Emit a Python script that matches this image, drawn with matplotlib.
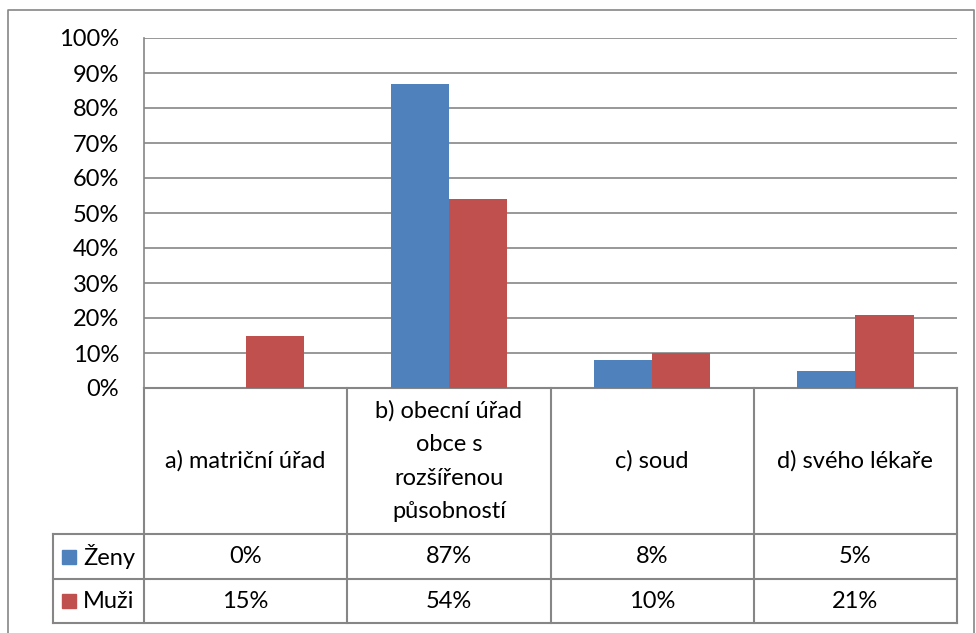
import numpy as np
import matplotlib
matplotlib.use("Agg")
import matplotlib.pyplot as plt
from matplotlib.patches import Rectangle

plt.rcParams['font.family'] = ['Lato', 'DejaVu Sans']

categories = ["a) matriční úřad", "b) obecní úřad\nobce s\nrozšířenou\npůsobností",
              "c) soud", "d) svého lékaře"]
series_names = ["Ženy", "Muži"]
zeny = [0, 87, 8, 5]
muzi = [15, 54, 10, 21]
yticks = [0, 10, 20, 30, 40, 50, 60, 70, 80, 90, 100]
colors = ["#4F81BD", "#C0504D"]
grey = "#868686"
fs = 17

W, H = 976, 633
fig = plt.figure(figsize=(W / 100, H / 100), dpi=100)

def fx(px):
    return px / W

def fy(py):
    return 1 - py / H

# layout in pixels
left, right = 144, 957
top, zero = 38, 388
hdr_bot, row1_bot, row2_bot = 534, 579, 623
leg_left = 53

# overlay for frame and data table
ov = fig.add_axes([0, 0, 1, 1])
ov.set_xlim(0, W)
ov.set_ylim(H, 0)
ov.axis("off")
ov.plot([8, 8, 974, 974], [H + 5, 10, 10, H + 5], color=grey, lw=1.2)

# bars
ax = fig.add_axes([fx(left), fy(zero), fx(right - left), (zero - top) / H])
x = np.arange(len(categories))
bw = 0.286
ax.bar(x - bw / 2, zeny, bw, color=colors[0], zorder=3)
ax.bar(x + bw / 2, muzi, bw, color=colors[1], zorder=3)
ax.set_xlim(-0.5, len(categories) - 0.5)
ax.set_ylim(0, 100)
ax.set_yticks(yticks)
ax.set_yticklabels([f"{t}%" for t in yticks], fontsize=fs)
ax.tick_params(axis="y", length=0, pad=18)
ax.set_xticks([])
ax.yaxis.grid(True, color=grey, lw=1.2, zorder=0)
for s in ["top", "right", "bottom"]:
    ax.spines[s].set_visible(False)
ax.spines["left"].set_color(grey)
ax.spines["left"].set_linewidth(1.2)
ax.patch.set_alpha(0)

# data table
n = len(categories)
cw = (right - left) / n
lk = dict(color=grey, lw=1.5)
ov.plot([left, left], [zero, row2_bot], **lk)
for i in range(1, n + 1):
    xl = left + i * cw
    ov.plot([xl, xl], [zero, row2_bot], **lk)
ov.plot([left, right], [zero, zero], **lk)
for yy in [hdr_bot, row1_bot, row2_bot]:
    ov.plot([leg_left, right], [yy, yy], **lk)
ov.plot([leg_left, leg_left], [hdr_bot, row2_bot], **lk)

for i, cat in enumerate(categories):
    ov.text(left + (i + 0.5) * cw, (zero + hdr_bot) / 2, cat, ha="center",
            va="center", fontsize=fs, linespacing=1.75)

rows = [zeny, muzi]
row_tops = [hdr_bot, row1_bot]
row_bots = [row1_bot, row2_bot]
for r in range(2):
    yc = (row_tops[r] + row_bots[r]) / 2
    ov.add_patch(Rectangle((62, yc - 7), 14, 14, color=colors[r]))
    ov.text(83, yc, series_names[r], ha="left", va="center", fontsize=fs)
    for i, v in enumerate(rows[r]):
        ov.text(left + (i + 0.5) * cw, yc, f"{v}%", ha="center", va="center",
                fontsize=fs)

fig.savefig("out.png", dpi=100)
